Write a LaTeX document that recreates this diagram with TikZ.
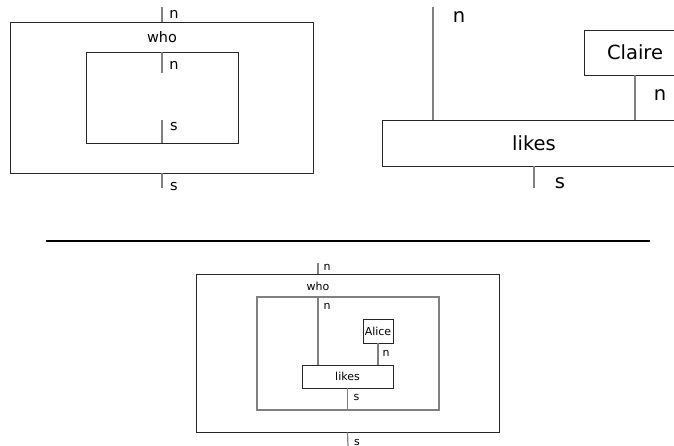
\documentclass[tikz,border=0pt]{standalone}
\usepackage{fontspec}
\setmainfont{DejaVu Sans}

\tikzset{
	diagram/.style = {
		x = 1pt,
		y = -1pt,
		wire/.style = {
			draw = black!50,
			line width = 1.2pt,
		},
		rule/.style = {
			draw = black,
			line width = 2pt,
		}
	},
	box/.style = {
		rectangle,
		draw = black!85,
		line width = 0.9pt,
		inner sep = 0pt
	},
	graybox/.style = {
		box,
		draw = black!50,
		line width = 1.2pt
	},
	small/.style = {
		font = \fontsize{11}{13}\selectfont
	},
	mid/.style = {
		font = \fontsize{14.5}{17}\selectfont
	},
	big/.style = {
		font = \fontsize{19.5}{23}\selectfont
	}
}

\begin{document}
\begin{tikzpicture}[diagram]
	\useasboundingbox (0,0) rectangle (674,446);
	\clip (0,0) rectangle (674,446);

	% who
	\node[box, minimum width = 303pt, minimum height = 151pt] (whoOut) at (161.5,97.5) {};
	\node[box, minimum width = 152pt, minimum height = 91pt] (whoIn) at (162,97.5) {};
	\node[mid] (who) at (162,37) {who};
	\coordinate (whoTop) at (162,7);
	\coordinate (whoBot) at (162,188);
	\coordinate (whoInN) at (162,73);
	\coordinate (whoInS) at (162,120);

	\draw[wire] (whoTop) -- node[mid, xshift = 12pt] {n} (whoTop |- whoOut.north);
	\draw[wire] (whoTop |- whoIn.north) -- node[mid, pos = 0.67, xshift = 12pt] {n} (whoInN);
	\draw[wire] (whoInS) -- node[mid, pos = 0.3, xshift = 12pt] {s} (whoTop |- whoIn.south);
	\draw[wire] (whoTop |- whoOut.south) -- node[mid, pos = 0.93, xshift = 12pt] {s} (whoBot);

	% likes Claire
	\node[box, big, minimum width = 102pt, minimum height = 45pt] (claire) at (635,52.5) {Claire};
	\node[box, big, minimum width = 304pt, minimum height = 46pt] (likes) at (534,143) {likes};
	\coordinate (likesN) at (433,7);
	\coordinate (likesS) at (534,188);

	\draw[wire] (likesN) -- node[big, pos = 0.09, xshift = 26pt] {n} (likesN |- likes.north);
	\draw[wire] (claire.south) -- node[big, pos = 0.44, xshift = 25pt] {n} (claire.south |- likes.north);
	\draw[wire] (likes.south) -- node[big, pos = 0.77, xshift = 26pt] {s} (likesS);

	% separator
	\coordinate (sepL) at (46,241);
	\coordinate (sepR) at (650,241);
	\draw[rule] (sepL) -- (sepR);

	% who likes Alice
	\node[box, minimum width = 303pt, minimum height = 158pt] (whoOut2) at (347.5,353) {};
	\node[graybox, minimum width = 182pt, minimum height = 113pt] (whoIn2) at (348,353.5) {};
	\node[small] (who2) at (318,286) {who};
	\node[box, small, minimum width = 30pt, minimum height = 24pt] (alice) at (378,331) {Alice};
	\node[box, small, minimum width = 91pt, minimum height = 23pt] (likes2) at (347.5,376.5) {likes};
	\coordinate (top2) at (318,263);
	\coordinate (bot2) at (348,446);

	\draw[wire] (top2) -- node[small, pos = 0.45, xshift = 9pt] {n} (top2 |- whoOut2.north);
	\draw[wire] (top2 |- whoIn2.north) -- node[small, pos = 0.15, xshift = 9pt] {n} (top2 |- likes2.north);
	\draw[wire] (alice.south) -- node[small, pos = 0.45, xshift = 8pt] {n} (alice.south |- likes2.north);
	\draw[wire] (likes2.south) -- node[small, pos = 0.4, xshift = 9pt] {s} (likes2.south |- whoIn2.south);
	\draw[wire] (likes2.south |- whoOut2.south) -- node[small, pos = 0.77, xshift = 9pt] {s} (bot2);
\end{tikzpicture}
\end{document}
